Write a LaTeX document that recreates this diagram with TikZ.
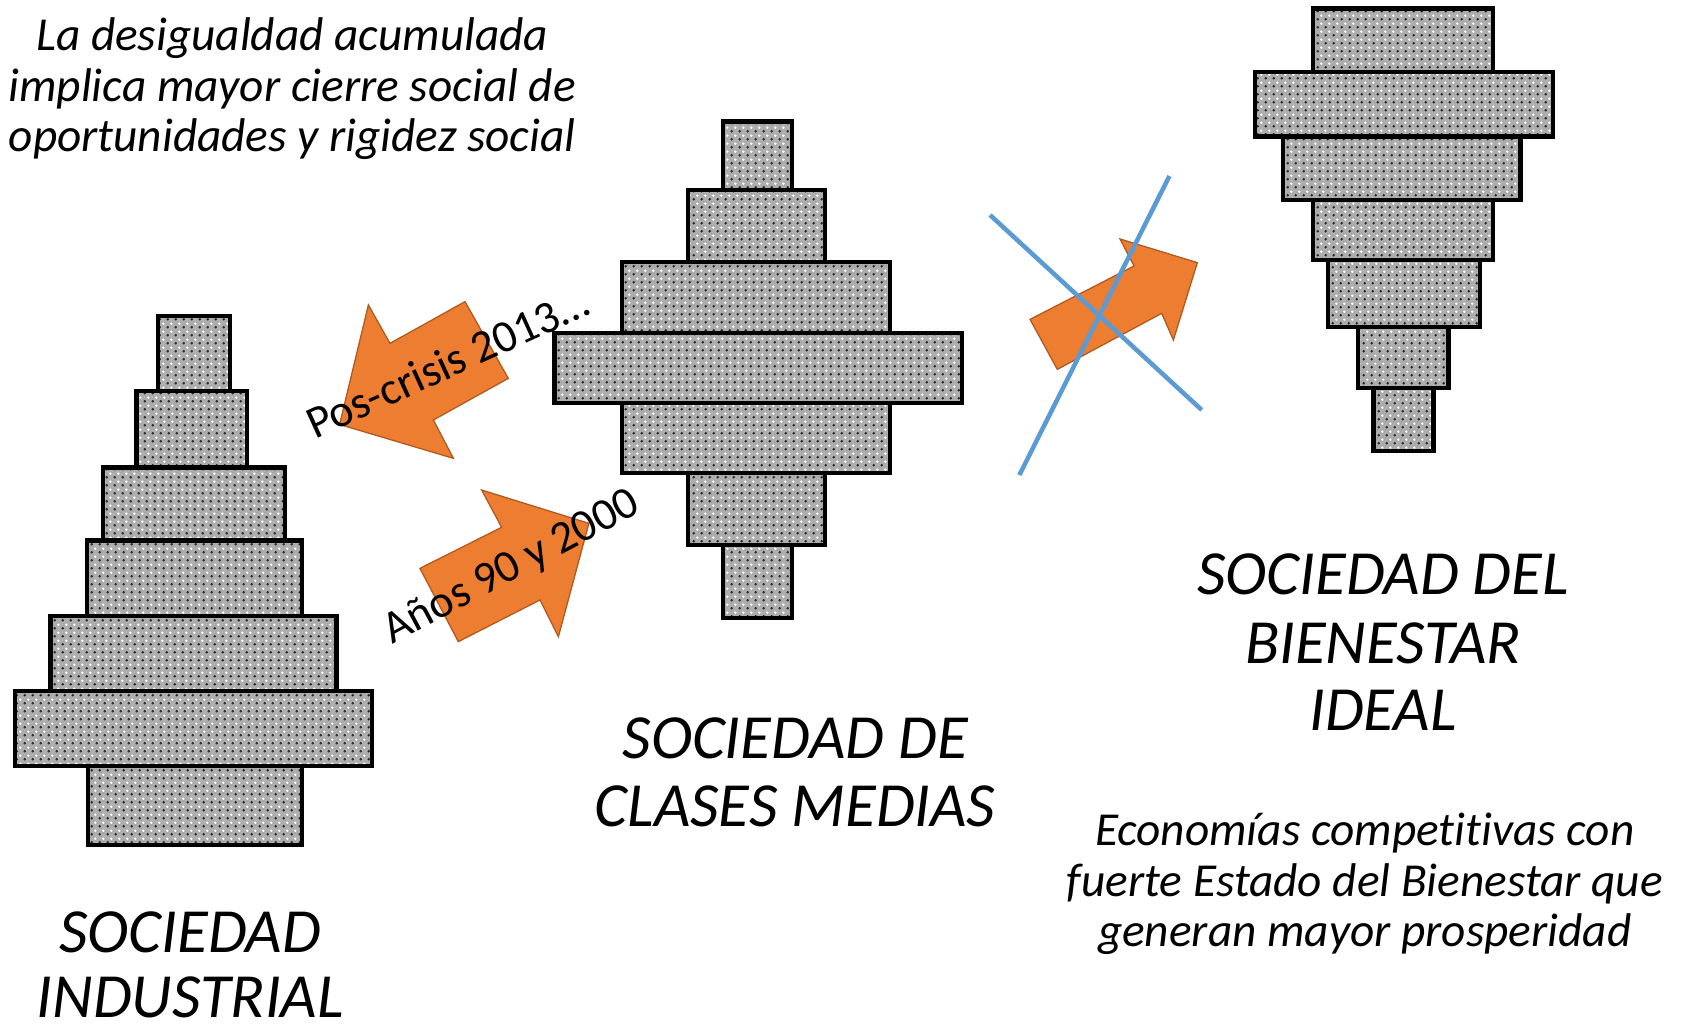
\documentclass[tikz,border=0pt]{standalone}
\usepackage{fontspec}
\setmainfont{Carlito}[Ligatures={NoCommon,NoContextual}]
\usetikzlibrary{patterns.meta}
\definecolor{arroworange}{HTML}{ED7D31}
\definecolor{arrowedge}{HTML}{AE5A21}
\definecolor{crossblue}{HTML}{5B9BD5}
\tikzdeclarepattern{name=darkdots, type=uncolored,
  bottom left={(0pt,0pt)}, top right={(7pt,7pt)}, tile size={(7pt,7pt)},
  code={\pgfpathcircle{\pgfpoint{1.75pt}{1.75pt}}{1.3pt}\pgfusepath{fill}}}
\tikzdeclarepattern{name=lightdots, type=uncolored,
  bottom left={(0pt,0pt)}, top right={(7pt,7pt)}, tile size={(7pt,7pt)},
  code={\pgfpathcircle{\pgfpoint{5.25pt}{5.25pt}}{1.3pt}\pgfusepath{fill}}}
\begin{document}
\begin{tikzpicture}[x=1pt,y=-1pt,
  bar/.style={preaction={fill=black!32},
              preaction={pattern=darkdots, pattern color=black!85},
              preaction={pattern=lightdots, pattern color=white},
              draw=black, line width=4pt},
  orangearrow/.style={fill=arroworange, draw=arrowedge, line width=1.2pt, line join=miter},
  crossline/.style={draw=crossblue, line width=4.2pt},
  smalltext/.style={font=\fontsize{44}{47.5}\selectfont\itshape, anchor=base, inner sep=0pt},
  bigtext/.style={font=\fontsize{58.5}{63}\selectfont\itshape, anchor=base, inner sep=0pt},
  arrowtext/.style={font=\fontsize{42.5}{46}\selectfont, anchor=base west, inner sep=0pt}]
\useasboundingbox (0,0) rectangle (1568,953);
\fill[white] (0,0) rectangle (1568,953);

% left pyramid: sociedad industrial
\draw[bar] (147,294) rectangle (214,364);
\draw[bar] (127,364) rectangle (230,435);
\draw[bar] (96,435) rectangle (265,503);
\draw[bar] (81,503) rectangle (281,573);
\draw[bar] (47,573) rectangle (313,643);
\draw[bar] (14,643) rectangle (346,713);
\draw[bar] (82,713) rectangle (281,786);

% middle: clases medias
\draw[bar] (673,113) rectangle (737,177);
\draw[bar] (640,177) rectangle (768,244);
\draw[bar] (579,244) rectangle (828,310);
\draw[bar] (516,310) rectangle (895,375);
\draw[bar] (579,375) rectangle (828,440);
\draw[bar] (640,440) rectangle (768,507);
\draw[bar] (673,507) rectangle (737,575);

% right: bienestar ideal
\draw[bar] (1222,8) rectangle (1389,67);
\draw[bar] (1194,127) rectangle (1415,186);
\draw[bar] (1168,67) rectangle (1445,127);
\draw[bar] (1222,186) rectangle (1389,242);
\draw[bar] (1236,242) rectangle (1377,304);
\draw[bar] (1264,304) rectangle (1348,361);
\draw[bar] (1278,361) rectangle (1334,420);

% orange arrows
\draw[orangearrow] (316,395) -- (342.8,283.8) -- (362.9,319.5) -- (432.7,280.7)
  -- (473.0,352.1) -- (403.3,390.8) -- (421.9,426.5) -- cycle;
\draw[orangearrow] (548,487) -- (519.6,592.5) -- (502.5,558.3) -- (426.5,597.1)
  -- (390.8,528.9) -- (466.8,490.7) -- (448.2,456.0) -- cycle;
\draw[orangearrow] (958.5,297.2) -- (1055.3,247.5) -- (1042.2,222.4) -- (1114.2,244.4)
  -- (1091.9,316.4) -- (1081,291.6) -- (983.9,343.7) -- cycle;

% blue cross
\draw[crossline] (921.3,200.1) -- (1118.3,381.5);
\draw[crossline] (1088.2,163.8) -- (948.6,442);

% arrow labels
\node[arrowtext, rotate=24.5] (poscrisis) at (293,409.5) {Pos-crisis 2013…};
\node[arrowtext, rotate=28] (anos) at (365,600) {Años 90 y 2000};

% top-left text
\node[smalltext] (tl1) at (272,47) {La desigualdad acumulada};
\node[smalltext] (tl2) at (272,94) {implica mayor cierre social de};
\node[smalltext] (tl3) at (272,141) {oportunidades y rigidez social};

% labels
\node[bigtext] (ind1) at (177,886) {SOCIEDAD};
\node[bigtext] (ind2) at (177,947) {INDUSTRIAL};
\node[bigtext] (med1) at (740,706) {SOCIEDAD DE};
\node[bigtext] (med2) at (740,769) {CLASES MEDIAS};
\node[bigtext] (bie1) at (1287,553) {SOCIEDAD DEL};
\node[bigtext] (bie2) at (1287,617) {BIENESTAR};
\node[bigtext] (bie3) at (1287,680) {IDEAL};

% bottom-right text
\node[smalltext] (eco1) at (1270,787) {Economías compet\kern0pt it\kern0pt ivas con};
\node[smalltext] (eco2) at (1270,834) {fuerte Estado del Bienestar que};
\node[smalltext] (eco3) at (1270,881) {generan mayor prosperidad};
\end{tikzpicture}
\end{document}
